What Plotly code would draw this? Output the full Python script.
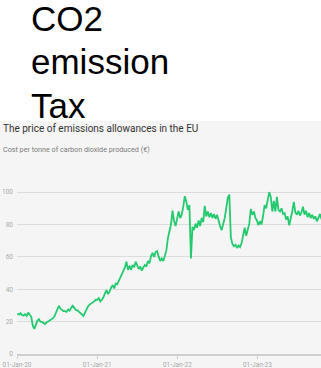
import pandas as pd
import plotly.graph_objects as go

# Weekly closing price of EU emissions allowances (EUR per tonne of CO2), Fridays
prices_2020 = [
    25.0, 24.3, 25.2, 24.0, 23.8,   # Jan
    24.6, 23.5, 25.6, 24.2,         # Feb
    23.0, 17.5, 15.5, 18.0,         # Mar
    20.5, 21.5, 20.0, 19.8,         # Apr
    19.0, 18.5, 19.5, 20.0, 21.0,   # May
    21.5, 22.0, 23.0, 25.0,         # Jun
    27.0, 29.8, 28.0, 27.0, 26.5,   # Jul
    26.5, 26.0, 27.5, 26.8,         # Aug
    28.5, 29.8, 28.5, 27.2,         # Sep
    27.0, 26.0, 25.0, 24.0, 23.5,   # Oct
    25.5, 28.0, 29.5, 30.5,         # Nov
    31.0, 32.0, 32.5, 33.5,         # Dec
]
prices_2021 = [
    33.5, 34.5, 32.5, 33.5, 35.0,   # Jan
    37.5, 39.5, 37.0, 38.5,         # Feb
    41.0, 42.5, 40.5, 43.5,         # Mar
    43.0, 45.0, 47.5, 49.0, 51.0,   # Apr
    53.5, 57.0, 52.0, 54.5,         # May
    52.0, 55.0, 53.5, 57.0,         # Jun
    55.0, 52.5, 54.0, 51.5, 53.5,   # Jul
    55.0, 54.0, 57.5, 56.0,         # Aug
    60.5, 62.5, 60.0, 63.0,         # Sep
    63.5, 60.0, 57.5, 59.0, 57.5,   # Oct
    60.5, 64.0, 71.5, 76.0,         # Nov
    80.0, 88.5, 82.0, 79.0, 84.0,   # Dec
]
prices_2022 = [
    88.0, 84.0, 86.0, 91.0,         # Jan
    97.5, 94.0, 89.0, 92.0,         # Feb
    59.0, 78.5, 76.5, 80.5,         # Mar
    78.0, 82.5, 79.0, 84.0, 81.5,   # Apr
    91.5, 85.0, 88.0, 84.5,         # May
    87.0, 84.0, 86.5, 83.5,         # Jun
    86.0, 82.0, 79.0, 76.5, 80.0,   # Jul
    84.0, 90.0, 96.5, 98.5,         # Aug
    72.0, 68.0, 66.5, 67.5, 65.5,   # Sep
    67.0, 66.0, 68.5, 74.0,         # Oct
    78.0, 73.0, 76.5, 80.5,         # Nov
    89.5, 86.0, 88.0, 84.0, 82.5,   # Dec
]
prices_2023 = [
    79.5, 82.0, 80.0, 85.5,         # Jan
    92.0, 90.0, 96.5, 100.0,        # Feb
    97.0, 88.0, 94.5, 88.0, 97.0,   # Mar
    89.0, 88.0, 90.0, 86.5,         # Apr
    87.0, 83.0, 85.0, 79.5,         # May
    83.0, 88.0, 94.0, 87.5, 86.0,   # Jun
    88.5, 85.5, 87.5, 91.0,         # Jul
    86.0, 88.5, 84.5, 87.0,         # Aug
    84.0, 86.0, 83.5, 85.0, 82.0,   # Sep
    84.0, 86.5, 83.5, 81.0,         # Oct
]
prices = prices_2020 + prices_2021 + prices_2022 + prices_2023
dates = pd.date_range("2020-01-03", periods=len(prices), freq="W-FRI")

y_ticks = [0, 20, 40, 60, 80, 100]
x_ticks = ["2020-01-01", "2021-01-01", "2022-01-01", "2023-01-01"]

slide_title = ["CO2", "emission", "Tax"]
chart_title = "The price of emissions allowances in the EU"
chart_subtitle = "Cost per tonne of carbon dioxide produced (€)"

# Canvas geometry (pixels)
W, H = 321, 368
ML, MR, MT, MB = 17, 0, 184, 14
PW, PH = W - ML - MR, H - MT - MB


def xp(px):
    return (px - ML) / PW


def yp(py):
    return (H - MB - py) / PH


SLIM = "Roboto, Liberation Sans, sans-serif"
PANEL = "#f5f5f5"

fig = go.Figure()
fig.add_trace(go.Scatter(
    x=dates, y=prices, mode="lines",
    line=dict(color="#25c96e", width=1.8),
    hoverinfo="skip", showlegend=False,
))

# grey chart panel under the slide heading
fig.add_shape(type="rect", xref="paper", yref="paper",
              x0=xp(0), x1=xp(W), y0=yp(H), y1=yp(121),
              fillcolor=PANEL, line=dict(width=0), layer="below")

annotations = []
for line, mid in zip(slide_title, [18.5, 61.5, 105.5]):
    annotations.append(dict(
        text=line, xref="paper", yref="paper", x=xp(30), y=yp(mid),
        xanchor="left", yanchor="middle", showarrow=False, borderpad=0,
        font=dict(family="Arial, Liberation Sans, sans-serif", size=35, color="#000000"),
    ))
annotations.append(dict(
    text=chart_title, xref="paper", yref="paper", x=xp(2), y=yp(128.5),
    xanchor="left", yanchor="middle", showarrow=False, borderpad=0,
    font=dict(family=SLIM, size=10, color="#333333"),
))
annotations.append(dict(
    text=chart_subtitle, xref="paper", yref="paper", x=xp(2), y=yp(149),
    xanchor="left", yanchor="middle", showarrow=False, borderpad=0,
    font=dict(family=SLIM, size=7.2, color="#7a7a7a"),
))

fig.update_layout(
    width=W, height=H, autosize=False,
    margin=dict(l=ML, r=MR, t=MT, b=MB, pad=0),
    paper_bgcolor="#ffffff", plot_bgcolor=PANEL,
    annotations=annotations,
    xaxis=dict(
        range=["2020-01-01", "2023-10-18"],
        tickvals=x_ticks, tickformat="%d-%b-%y",
        ticks="outside", ticklen=3, tickcolor="#cccccc", tickwidth=1,
        showgrid=False, showline=True, linecolor="#cfcfcf", linewidth=2,
        tickfont=dict(family=SLIM, size=6.5, color="#aaaaaa"),
        fixedrange=True,
    ),
    yaxis=dict(
        range=[0, 105], tickvals=y_ticks,
        showgrid=True, gridcolor="#dcdcdc", gridwidth=1,
        zeroline=False, showline=False, ticks="",
        ticklabelstandoff=3,
        tickfont=dict(family=SLIM, size=6.5, color="#aaaaaa"),
        fixedrange=True,
    ),
)

fig.write_html("out.html")
